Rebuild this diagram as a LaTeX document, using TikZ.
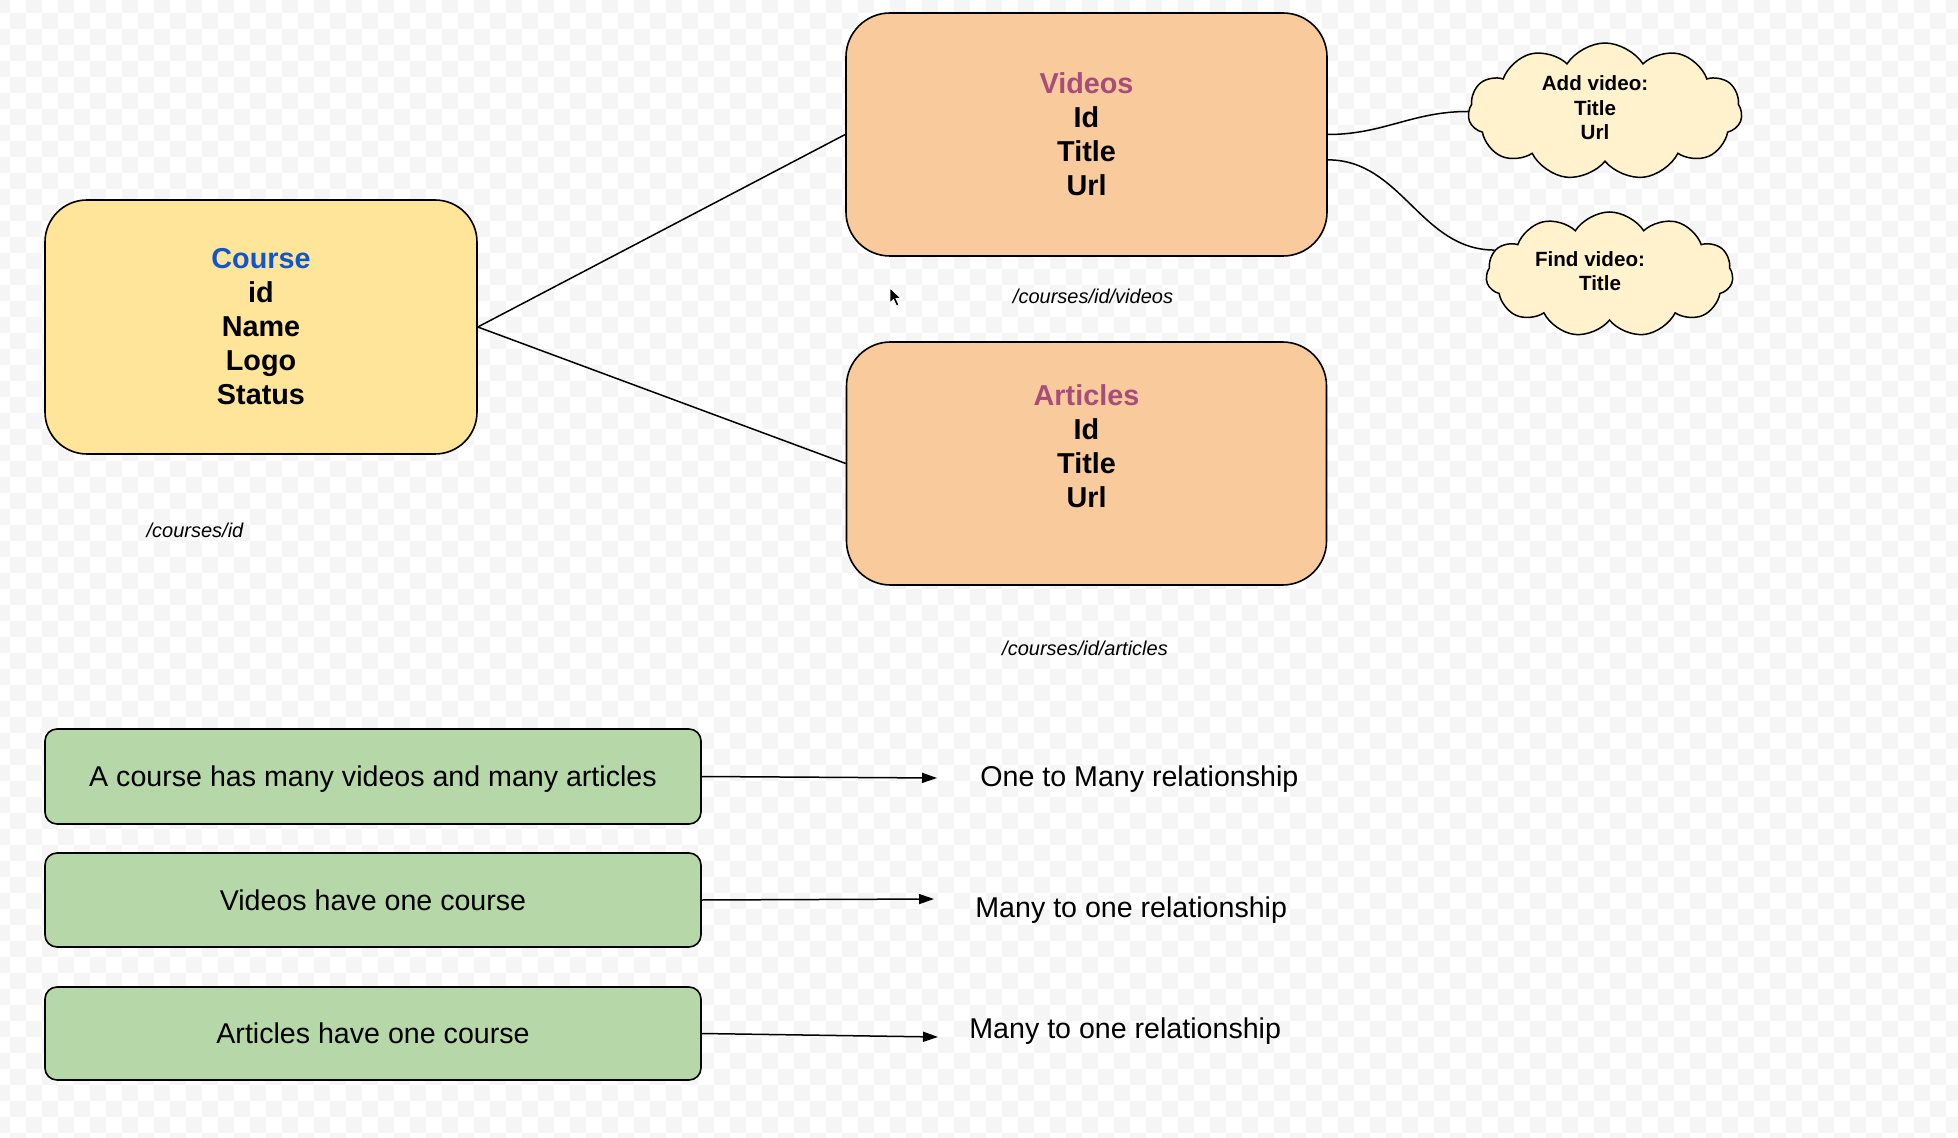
\documentclass[tikz,border=0pt]{standalone}
\usepackage{fontspec}
\setmainfont{Liberation Sans}
\usepackage{xcolor}
\usetikzlibrary{arrows.meta,shapes.symbols}

\definecolor{coursefill}{HTML}{FFE599}
\definecolor{entityfill}{HTML}{F9CB9C}
\definecolor{notefill}{HTML}{B6D7A8}
\definecolor{cloudfill}{HTML}{FFF2CC}
\definecolor{coursetitle}{HTML}{1155CC}
\definecolor{entitytitle}{HTML}{A64D79}
\definecolor{checker}{HTML}{F5F5F5}

\begin{document}
\begin{tikzpicture}[x=0.5pt, y=-0.5pt,
  entity/.style={draw=black, line width=0.8pt, rounded corners=21pt, align=center, font=\fontsize{14.4}{17}\selectfont\bfseries},
  action/.style={cloud, cloud puffs=11, cloud puff arc=115, cloud ignores aspect, draw=black, line width=0.75pt, fill=cloudfill, inner sep=0pt},
  actiontext/.style={align=center, inner sep=0pt, font=\fontsize{10.3}{12.2}\selectfont\bfseries},
  note/.style={draw=black, line width=0.8pt, rounded corners=6pt, fill=notefill, minimum width=328pt, font=\fontsize{14.3}{17}\selectfont},
  relation/.style={anchor=west, inner sep=0pt, font=\fontsize{14.3}{17}\selectfont},
  route/.style={inner sep=0pt, font=\fontsize{10}{12}\selectfont\itshape},
  link/.style={line width=0.75pt},
  implies/.style={line width=0.75pt, -{Triangle[length=7.5pt,width=5pt]}}]
  \useasboundingbox (0,0) rectangle (1958,1138);
  \begin{scope}
    \clip (0,0) rectangle (1958,1138);
    \fill[white] (0,0) rectangle (1958,1138);
    \foreach \m in {-1,...,70}{
      \pgfmathtruncatemacro\ks{mod(\m+1,2)-1}
      \pgfmathtruncatemacro\kn{\ks+2}
      \foreach \k in {\ks,\kn,...,122}
        \fill[checker] (10+16*\k,13+16*\m) rectangle ++(16,16);
    }
  \end{scope}

  \node[entity, fill=coursefill, minimum width=216pt, minimum height=127pt] (course) at (261,327)
    {{\color{coursetitle}Course}\\id\\Name\\Logo\\Status};
  \node[entity, fill=entityfill, rounded corners=22pt, minimum width=240.5pt, minimum height=121.5pt] (videos) at (1086.5,134.5)
    {{\color{entitytitle}Videos}\\Id\\Title\\Url};
  \node[entity, fill=entityfill, rounded corners=22pt, minimum width=240pt, minimum height=121.5pt] (articles) at (1086.5,463.5)
    {{\color{entitytitle}Articles}\\Id\\Title\\Url\\~};

  \node[action, minimum width=137pt, minimum height=68.5pt] (addvideo) at (1605,111.5) {};
  \node[actiontext] (addvideotext) at (1595,108) {Add video:\\Title\\Url};
  \node[action, minimum width=123.5pt, minimum height=62.5pt] (findvideo) at (1609.5,274.5) {};
  \node[actiontext] (findvideotext) at (1590,271) {Find video:\\\rule{10pt}{0pt}Title};

  \node[route] (courseroute) at (195,530) {/courses/id};
  \node[route] (videoroute) at (1093,296) {/courses/id/videos};
  \node[route] (articleroute) at (1085,648) {/courses/id/articles};

  \draw[link] (course.east) -- (videos.west);
  \draw[link] (course.east) -- (articles.west);
  \draw[link] (videos.east) to[out=0, in=180] (addvideo.west);
  \draw[link] (videos.-6) to[out=0, in=180] (findvideo.168);

  \node[note, minimum height=47.5pt, text height=13pt] (onemany) at (373,776.5) {A course has many videos and many articles};
  \node[note, minimum height=47pt] (videoone) at (373,900) {Videos have one course};
  \node[note, minimum height=46.5pt] (articleone) at (373,1033.5) {Articles have one course};

  \coordinate (end1) at (937,778);
  \coordinate (end2) at (934,899);
  \coordinate (end3) at (938,1037);
  \draw[implies] (onemany.east) -- (end1);
  \draw[implies] (videoone.east) -- (end2);
  \draw[implies] (articleone.east) -- (end3);

  \node[relation] (rel1) at (980,779) {One to Many relationship};
  \node[relation] (rel2) at (975,910) {Many to one relationship};
  \node[relation] (rel3) at (969,1031) {Many to one relationship};

  \fill[black, draw=white, line width=0.4pt] (890,288) -- (890,303) -- (893.5,299.5) -- (896.5,306) -- (899,305) -- (896,298.5) -- (901,298.5) -- cycle;
\end{tikzpicture}
\end{document}
